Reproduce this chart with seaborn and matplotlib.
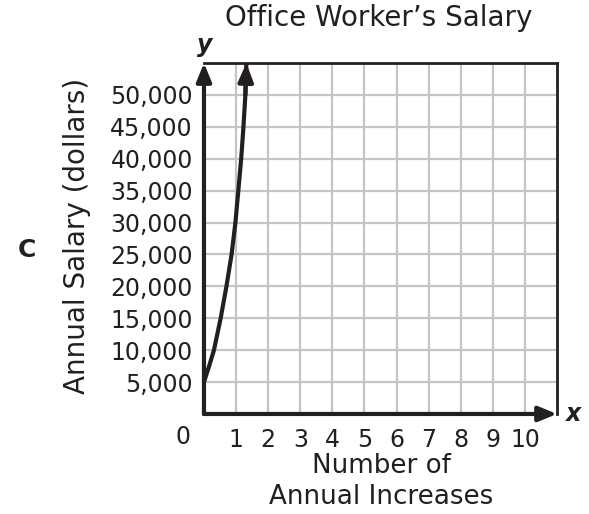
import matplotlib
matplotlib.use("Agg")
import matplotlib.pyplot as plt
import seaborn as sns
import pandas as pd

# values
increases = [0, 0.16, 0.31, 0.52, 0.70, 0.86, 0.98, 1.07, 1.16, 1.23, 1.29, 1.32]
salary = [5000, 7500, 10000, 15000, 20000, 25000, 30000, 35000, 40000, 45000, 50000, 55000]
x_ticks = list(range(1, 11))
y_ticks = list(range(5000, 50001, 5000))
y_labels = [f"{v:,}" for v in y_ticks]
x_max = 11
y_max = 55000

sns.set_style("white")
plt.rcParams["font.family"] = ["DejaVu Sans"]

ink = "#231f20"
arrow = dict(arrowstyle="-|>,head_length=1.1,head_width=0.45",
             color=ink, lw=3, shrinkA=0, shrinkB=0)

fig = plt.figure(figsize=(5.89, 5.14), dpi=100)
ax = fig.add_axes([0.3463, 0.1946, 0.5994, 0.6828])

df = pd.DataFrame({"x": increases, "y": salary})

ax.set_xlim(0, x_max)
ax.set_ylim(0, y_max)

# grid
for xv in x_ticks:
    ax.axvline(xv, color="#c4c4c4", lw=1.6, zorder=0)
for yv in y_ticks:
    ax.axhline(yv, color="#c4c4c4", lw=1.6, zorder=0)

sns.lineplot(data=df, x="x", y="y", ax=ax, color=ink, lw=3,
             sort=False, estimator=None, zorder=3)
# arrowhead at curve end
ax.annotate("", xy=(increases[-1], salary[-1]), xytext=(increases[-2], salary[-2]),
            arrowprops=arrow, annotation_clip=False, zorder=4)

# axes with arrows
ax.annotate("", xy=(0, y_max), xytext=(0, 0), arrowprops=arrow,
            annotation_clip=False, zorder=5)
ax.annotate("", xy=(x_max, 0), xytext=(0, 0), arrowprops=arrow,
            annotation_clip=False, zorder=5)

for side in ["top", "right"]:
    ax.spines[side].set_color(ink)
    ax.spines[side].set_linewidth(2)
for side in ["left", "bottom"]:
    ax.spines[side].set_visible(False)

ax.set_xticks(x_ticks)
ax.set_xticklabels([str(v) for v in x_ticks])
ax.set_yticks(y_ticks)
ax.set_yticklabels(y_labels)
ax.tick_params(axis="both", length=0, labelsize=17, colors=ink)
ax.tick_params(axis="y", pad=8)
ax.tick_params(axis="x", pad=10)
ax.text(-0.06, -0.065, "0", transform=ax.transAxes, ha="center", va="center",
        fontsize=17, color=ink)

ax.set_xlabel("")
ax.set_ylabel("")
fig.text(0.131, 0.541, "Annual Salary (dollars)", rotation=90, ha="center",
         va="center", fontsize=20, color=ink)
fig.text(0.647, 0.093, "Number of", ha="center", va="center", fontsize=18.8,
         color=ink)
fig.text(0.647, 0.033, "Annual Increases", ha="center", va="center",
         fontsize=18.8, color=ink)

fig.text(0.6435, 0.965, "Office Worker\u2019s Salary", ha="center", va="center",
         fontsize=20, color=ink)
fig.text(0.348, 0.912, "y", ha="center", va="center", fontsize=17,
         fontweight="bold", fontstyle="italic", color=ink)
fig.text(0.973, 0.195, "x", ha="center", va="center", fontsize=17,
         fontweight="bold", fontstyle="italic", color=ink)
fig.text(0.046, 0.514, "C", ha="center", va="center", fontsize=18,
         fontweight="bold", color=ink)

fig.savefig("out.png", dpi=100)
